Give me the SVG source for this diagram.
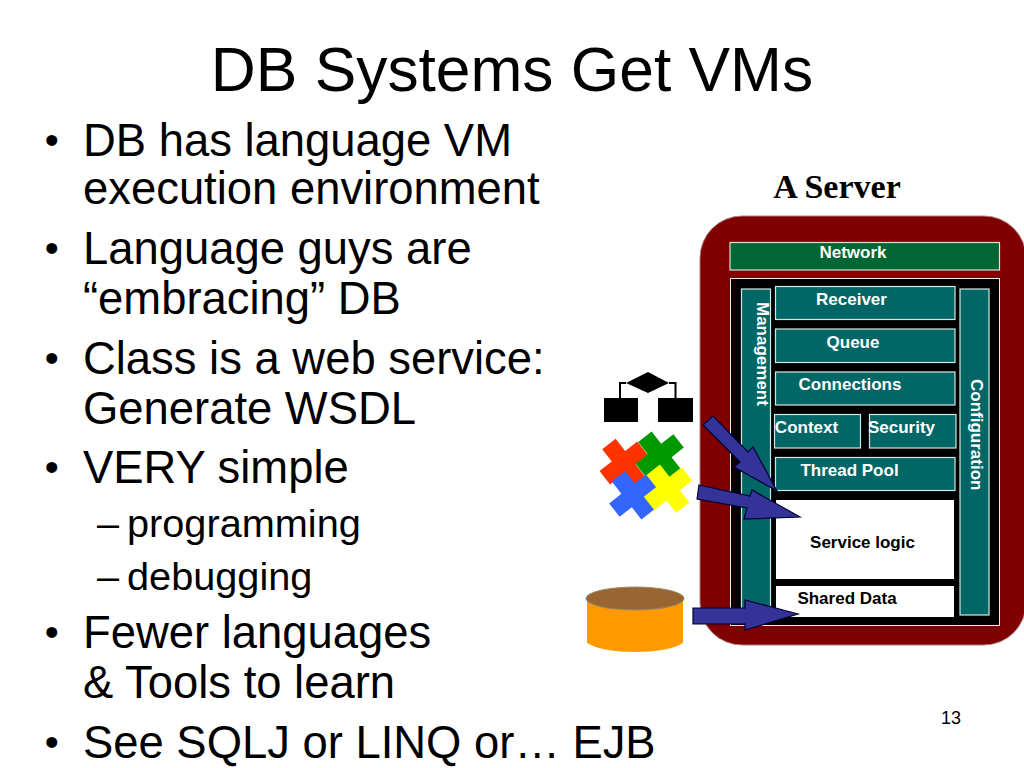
<svg xmlns="http://www.w3.org/2000/svg" width="1024" height="768" viewBox="0 0 1024 768">
<style>
.t{font-family:"Liberation Sans",Arial,sans-serif;fill:#000}
.b{font-size:45.400px}
.d{font-size:40px}
.s{font-size:39.700px}
.box{fill:#006666;stroke:#d5e5e0;stroke-width:1.2}
.lab{font-family:"Liberation Sans",Arial,sans-serif;font-size:17px;font-weight:bold;fill:#fff;text-anchor:middle}
.vlab{text-anchor:start}
.dk{fill:#000}
.arr{fill:#333399;stroke:#000033;stroke-width:1.2;stroke-linejoin:miter}
</style>
<defs>
<path id="cross" d="M-8.500 -24H8.500V-8.500H24V8.500H8.500V24H-8.500V8.500H-24V-8.500H-8.500Z"/>
</defs>
<rect width="1024" height="768" fill="#fff"/>
<g id="title"><text class="t" x="512" y="91" font-size="62.300" text-anchor="middle">DB Systems Get VMs</text></g>
<g id="bullets">
<text class="t d" x="44.700" y="154">•</text><text class="t b" x="83" y="156">DB has language VM</text>
<text class="t b" x="83" y="204">execution environment</text>
<text class="t d" x="44.700" y="262">•</text><text class="t b" x="83" y="264">Language guys are</text>
<text class="t b" x="83" y="314">“embracing” DB</text>
<text class="t d" x="44.700" y="372">•</text><text class="t b" x="83" y="374">Class is a web service:</text>
<text class="t b" x="83" y="424">Generate WSDL</text>
<text class="t d" x="44.700" y="481">•</text><text class="t b" x="83" y="483">VERY simple</text>
<text class="t s" x="97" y="537">–</text><text class="t s" x="127" y="537">programming</text>
<text class="t s" x="97" y="590">–</text><text class="t s" x="127" y="590">debugging</text>
<text class="t d" x="44.700" y="646">•</text><text class="t b" x="83" y="648">Fewer languages</text>
<text class="t b" x="83" y="698">&amp; Tools to learn</text>
<text class="t d" x="44.700" y="756">•</text><text class="t b" x="83" y="758">See SQLJ or LINQ or… EJB</text>
</g>
<g id="server-title"><text x="837" y="198" font-family="'Liberation Serif','Times New Roman',serif" font-size="34" font-weight="bold" text-anchor="middle">A Server</text></g>
<g id="server"><rect x="700" y="216" width="326" height="429" rx="42" fill="#800000" stroke="#b08080" stroke-width="1"/></g>
<g id="network"><rect x="730" y="242.500" width="269.500" height="27.500" fill="#006633" stroke="#d5e5e0" stroke-width="1.200"/><text class="lab" x="853" y="258">Network</text></g>
<g id="container"><rect x="730.500" y="278.500" width="269" height="347" fill="#000" stroke="#e8e8e8" stroke-width="1"/></g>
<g id="management"><rect class="box" x="741.500" y="289" width="29" height="326"/><text class="lab vlab" transform="translate(756.500 302) rotate(90)">Management</text></g>
<g id="configuration"><rect class="box" x="960" y="289" width="29" height="326"/><text class="lab vlab" transform="translate(971 379) rotate(90)">Configuration</text></g>
<g id="receiver"><rect class="box" x="775.500" y="286.500" width="179.500" height="33"/><text class="lab" x="851.500" y="305">Receiver</text></g>
<g id="queue"><rect class="box" x="775.500" y="329" width="179.500" height="33.500"/><text class="lab" x="853" y="348">Queue</text></g>
<g id="connections"><rect class="box" x="775.500" y="372" width="179.500" height="33"/><text class="lab" x="850" y="390">Connections</text></g>
<g id="context"><rect class="box" x="774.500" y="414.500" width="86" height="33.500"/><text class="lab" x="806.500" y="433">Context</text></g>
<g id="security"><rect class="box" x="869.500" y="414.500" width="86.500" height="33.500"/><text class="lab" x="901.500" y="433">Security</text></g>
<g id="thread-pool"><rect class="box" x="775.500" y="457.500" width="179.500" height="33"/><text class="lab" x="849.500" y="476">Thread Pool</text></g>
<g id="service-logic"><rect x="776" y="500" width="178" height="79" fill="#fff"/><text class="lab" x="862.500" y="548" style="fill:#000">Service logic</text></g>
<g id="shared-data"><rect x="776" y="586" width="178" height="31" fill="#fff"/><text class="lab" x="847" y="604" style="fill:#000">Shared Data</text></g>
<g id="hierarchy-icon">
<path d="M620 398V383H626M669 383H675.500V398" fill="none" stroke="#000" stroke-width="2"/>
<path d="M648 372L669 383L648 393L626 383Z M604 398H638V422H604Z M658 398H693V422H658Z" class="dk"/>
</g>
<g id="puzzle-icon">
<use href="#cross" transform="translate(623.700 463) rotate(-38)" fill="#ff3300"/>
<use href="#cross" transform="translate(659.700 455.700) rotate(-38)" fill="#009900"/>
<use href="#cross" transform="translate(633.300 495.300) rotate(-38)" fill="#3366ff"/>
<use href="#cross" transform="translate(668 488.700) rotate(-38)" fill="#ffff00"/>
</g>
<g id="database-icon">
<path d="M587 598V643C605 655 665 655 683 643V598Z" fill="#ff9900"/>
<ellipse cx="635" cy="598.500" rx="49" ry="11.500" fill="#996633" stroke="#998866" stroke-width="1"/>
</g>
<g id="connectors">
<path class="arr" id="arrow-1" d="M703 425L713 416L748 452L753 447L777 491L734 467L740 462Z"/>
<path class="arr" id="arrow-2" d="M699 485L750 496L752 490L800 517L744 519L747 508L697 499Z"/>
<path class="arr" id="arrow-3" d="M693 608H745V600L798 614L745 630V624H693Z"/>
</g>
<g id="page-number"><text class="t" x="951" y="724" font-size="18" text-anchor="middle">13</text></g>
</svg>
